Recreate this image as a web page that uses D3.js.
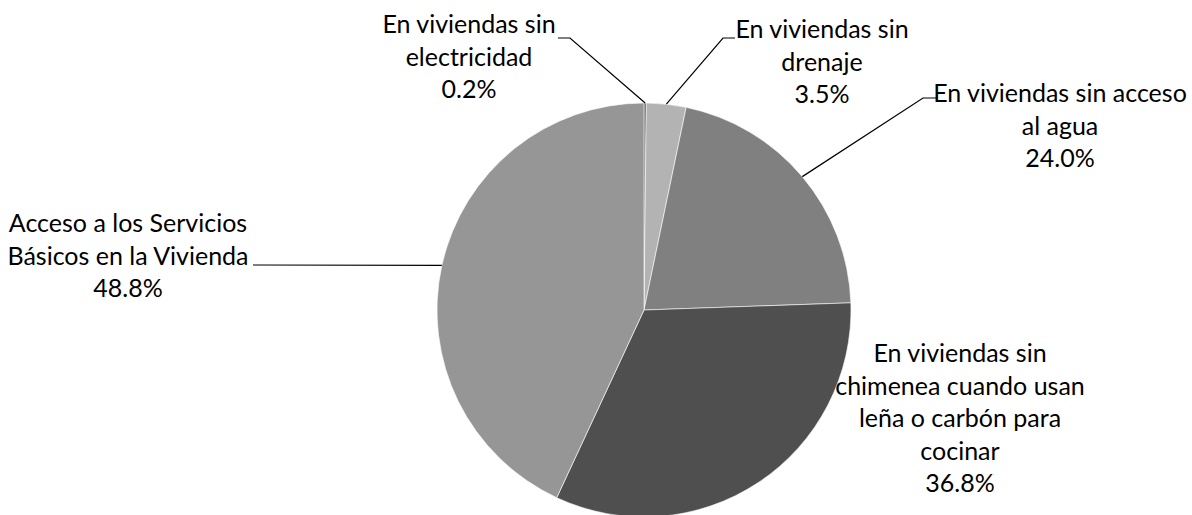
<!DOCTYPE html>
<html>
<head>
<meta charset="utf-8">
<script src="https://cdn.jsdelivr.net/npm/d3@7"></script>
<style>
  body { margin: 0; background: #fff; }
  svg { display: block; }
  .lbl { font-family: Lato, "Open Sans", sans-serif; font-size: 25px; fill: #000; }
  .leader { fill: none; stroke: #000; stroke-width: 1.2; }
</style>
</head>
<body>
<script>
// data
var categories = [
  "En viviendas sin\nelectricidad",
  "En viviendas sin\ndrenaje",
  "En viviendas sin acceso\nal agua",
  "En viviendas sin\nchimenea cuando usan\nleña o carbón para\ncocinar",
  "Acceso a los Servicios\nBásicos en la Vivienda"
];
var values = [0.2, 3.5, 24.0, 36.8, 48.8];
var valueLabels = ["0.2%", "3.5%", "24.0%", "36.8%", "48.8%"];
var colors = ["#4d4d4d", "#b3b3b3", "#808080", "#4f4f4f", "#969696"];

// label layout: text centre, first baseline, leader elbow and end (null = no leader)
var labelX = [469, 822, 1060, 960, 128];
var labelY = [33, 38, 102, 362, 232];
var elbows = [[570, 38], [723, 38], [923, 98], null, [253, 265]];
var ends = [[558, 38], [735, 38], [938, 98], null, [253, 265]];

var width = 1192, height = 515;
var cx = 644, cy = 310, radius = 207;
var lineH = 32.5;

var svg = d3.select("body").append("svg")
    .attr("width", width)
    .attr("height", height);

var pie = d3.pie().sort(null).value(function(d) { return d; });
var arcs = pie(values);

var arc = d3.arc().innerRadius(0).outerRadius(radius);
var edge = d3.arc().innerRadius(radius).outerRadius(radius);

var g = svg.append("g")
    .attr("transform", "translate(" + cx + "," + cy + ")");

g.selectAll(".slice")
    .data(arcs)
    .enter().append("path")
    .attr("class", "slice")
    .attr("d", arc)
    .attr("fill", function(d, i) { return colors[i]; })
    .attr("stroke", "#fff")
    .attr("stroke-width", 0.6);

// leader lines from slice edge midpoint
svg.selectAll(".leader")
    .data(arcs.filter(function(d, i) { return elbows[i]; }))
    .enter().append("path")
    .attr("class", "leader")
    .attr("d", function(d) {
      var i = d.index;
      var p = edge.centroid(d);
      return d3.line()([[cx + p[0], cy + p[1]], elbows[i], ends[i]]);
    });

// labels
var labels = svg.selectAll(".lbl")
    .data(categories)
    .enter().append("text")
    .attr("class", "lbl")
    .attr("text-anchor", "middle");

labels.each(function(c, i) {
  var lines = c.split("\n").concat([valueLabels[i]]);
  d3.select(this).selectAll("tspan")
      .data(lines)
      .enter().append("tspan")
      .attr("x", labelX[i])
      .attr("y", function(d, j) { return labelY[i] + j * lineH; })
      .text(function(d) { return d; });
});
</script>
</body>
</html>
